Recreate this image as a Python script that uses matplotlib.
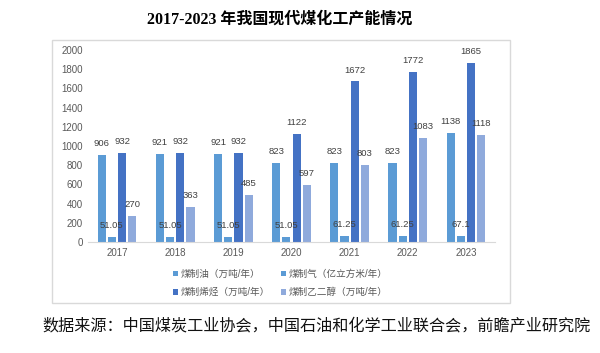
import matplotlib.pyplot as plt
from matplotlib.patches import Rectangle
import numpy as np

years = ['2017', '2018', '2019', '2020', '2021', '2022', '2023']
oil = [906, 921, 921, 823, 823, 823, 1138]
gas = [51.05, 51.05, 51.05, 51.05, 61.25, 61.25, 67.1]
olefin = [932, 932, 932, 1122, 1672, 1772, 1865]
glycol = [270, 363, 485, 597, 803, 1083, 1118]
series_names = ['煤制油（万吨/年）', '煤制气（亿立方米/年）', '煤制烯烃（万吨/年）', '煤制乙二醇（万吨/年）']
colors = ['#5B9BD5', '#5B9BD5', '#4472C4', '#8FAADC']

plt.rcParams['font.family'] = ['Liberation Sans', 'Noto Sans CJK SC']

fig = plt.figure(figsize=(6, 3.53), dpi=100)
# 图表外框
fig.patches.append(Rectangle((52 / 600, 1 - 303 / 353), 458 / 600, 263 / 353,
                             transform=fig.transFigure, fill=False,
                             edgecolor='#D9D9D9', linewidth=1))

ax = fig.add_axes([88 / 600, 1 - 242 / 353, 407 / 600, 192 / 353])
x = np.arange(len(years))
w = 0.14
step = 0.175
bars = []
for i, (vals, c) in enumerate(zip([oil, gas, olefin, glycol], colors)):
    b = ax.bar(x + (i - 1.5) * step, vals, w, color=c, label=series_names[i])
    ax.bar_label(b, labels=[f'{v:g}' for v in vals], padding=5,
                 fontsize=6.8, color='#404040')
    bars.append(b)

ax.set_xlim(-0.5, 6.5)
ax.set_ylim(0, 2000)
ax.set_yticks(range(0, 2001, 200))
ax.set_xticks(x)
ax.set_xticklabels(years)
ax.tick_params(length=0, labelsize=7, labelcolor='#595959')
ax.tick_params(axis='x', pad=4)
for s in ['top', 'right', 'left']:
    ax.spines[s].set_visible(False)
ax.spines['bottom'].set_color('#D9D9D9')

order = [0, 2, 1, 3]
leg = fig.legend([bars[i] for i in order], [series_names[i] for i in order],
                 ncol=2, loc='center', bbox_to_anchor=(280 / 600, 1 - 283 / 353),
                 frameon=False, fontsize=6.9, labelcolor='#595959',
                 handlelength=0.55, handleheight=0.55, handletextpad=0.25,
                 columnspacing=1.2, labelspacing=0.85, borderpad=0.2)

fig.text(280 / 600, 1 - 20 / 353, '2017-2023 年我国现代煤化工产能情况',
         ha='center', va='center', fontsize=11.5, fontweight='heavy',
         family=['Liberation Serif', 'Noto Sans CJK SC'])
fig.text(317 / 600, 1 - 326 / 353,
         '数据来源：中国煤炭工业协会，中国石油和化学工业联合会，前瞻产业研究院',
         ha='center', va='center', fontsize=11.6, color='#111111',
         family=['Noto Sans CJK SC'])

plt.savefig('out.png', dpi=100)
